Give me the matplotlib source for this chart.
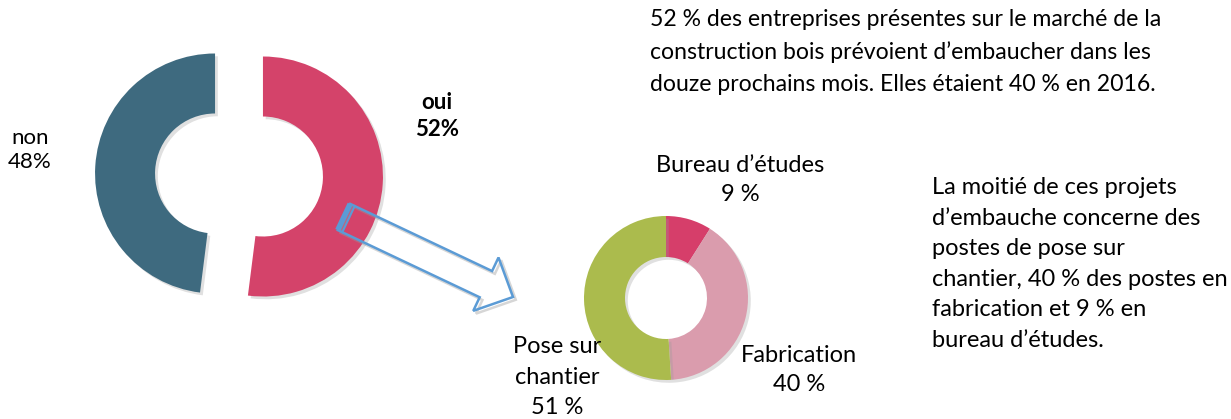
import matplotlib.pyplot as plt
import matplotlib.patheffects as pe
from matplotlib.patches import FancyArrow

plt.rcParams['font.family'] = ['Lato', 'DejaVu Sans']

# hiring intentions
hire_labels = ['oui', 'non']
hire_values = [52, 48]
hire_colors = ['#D4436A', '#3E6A7F']

# breakdown of the planned hires
job_labels = ["Bureau d\u2019études", 'Fabrication', 'Pose sur\nchantier']
job_values = [9, 40, 51]
job_colors = ['#D63E6A', '#DA9CAD', '#ABBB4D']

W, H = 1231, 419
fig = plt.figure(figsize=(W / 100, H / 100), dpi=100)
ax = fig.add_axes([0, 0, 1, 1])

shadow = [pe.SimplePatchShadow(offset=(2, -2), shadow_rgbFace='#999999', alpha=0.3), pe.Normal()]

# big donut, both halves pulled apart
wedges, _ = ax.pie(hire_values, colors=hire_colors, startangle=90, counterclock=False,
                   center=(239, H - 175), radius=120, explode=(24, 24),
                   wedgeprops=dict(width=60, linewidth=0), frame=True)
for w in wedges:
    w.set_path_effects(shadow)

# small donut
wedges2, _ = ax.pie(job_values, colors=job_colors, startangle=90, counterclock=False,
                    center=(666, H - 298), radius=82,
                    wedgeprops=dict(width=41, linewidth=0), frame=True)
for w in wedges2:
    w.set_path_effects(shadow)

# outlined arrow from the "oui" half to the breakdown
x0, y0, dx, dy = 344, H - 217, 169, -80
arr = FancyArrow(x0, y0, dx, dy, width=29, head_width=59, head_length=30,
                 length_includes_head=True, fill=False, edgecolor='#5B9BD5', lw=1.8)
arr.set_path_effects([pe.SimpleLineShadow(offset=(2, -2), shadow_color='#999999', alpha=0.4), pe.Normal()])
ax.add_patch(arr)
L = (dx ** 2 + dy ** 2) ** 0.5
ux, uy = dx / L, dy / L
px, py = -uy * 14.5, ux * 14.5
ax.plot([x0 + px, x0 - px], [y0 + py, y0 - py], color='#5B9BD5', lw=4, solid_capstyle='butt')
ax.plot([x0 + px + ux * 5, x0 - px + ux * 5], [y0 + py + uy * 5, y0 - py + uy * 5],
        color='#5B9BD5', lw=1.5)

ax.set_xlim(0, W)
ax.set_ylim(0, H)
ax.set_aspect('equal')
ax.axis('off')

fs = 17
# donut labels
ax.text(30, H - 150, f'{hire_labels[1]}\n{hire_values[1]}%', ha='center', va='center',
        fontsize=16, linespacing=1.25)
ax.text(437, H - 116, f'{hire_labels[0]}\n{hire_values[0]}%', ha='center', va='center',
        fontsize=16, fontweight='bold', linespacing=1.3)
ax.text(740, H - 180, f'{job_labels[0]}\n{job_values[0]} %', ha='center', va='center',
        fontsize=fs, linespacing=1.5)
ax.text(799, H - 370, f'{job_labels[1]}\n{job_values[1]} %', ha='center', va='center',
        fontsize=fs, linespacing=1.5)
ax.text(557, H - 377, f'{job_labels[2]}\n{job_values[2]} %', ha='center', va='center',
        fontsize=fs, linespacing=1.55)

# commentary
ax.text(650, H - 52, "52 % des entreprises présentes sur le marché de la\n"
        "construction bois prévoient d\u2019embaucher dans les\n"
        "douze prochains mois. Elles étaient 40 % en 2016.",
        ha='left', va='center', fontsize=16.6, linespacing=1.65)
ax.text(932, H - 264, "La moitié de ces projets\n"
        "d\u2019embauche concerne des\n"
        "postes de pose sur\n"
        "chantier, 40 % des postes en\n"
        "fabrication et 9 % en\n"
        "bureau d\u2019études.",
        ha='left', va='center', fontsize=fs, linespacing=1.56)

fig.savefig('out.png', dpi=100)
